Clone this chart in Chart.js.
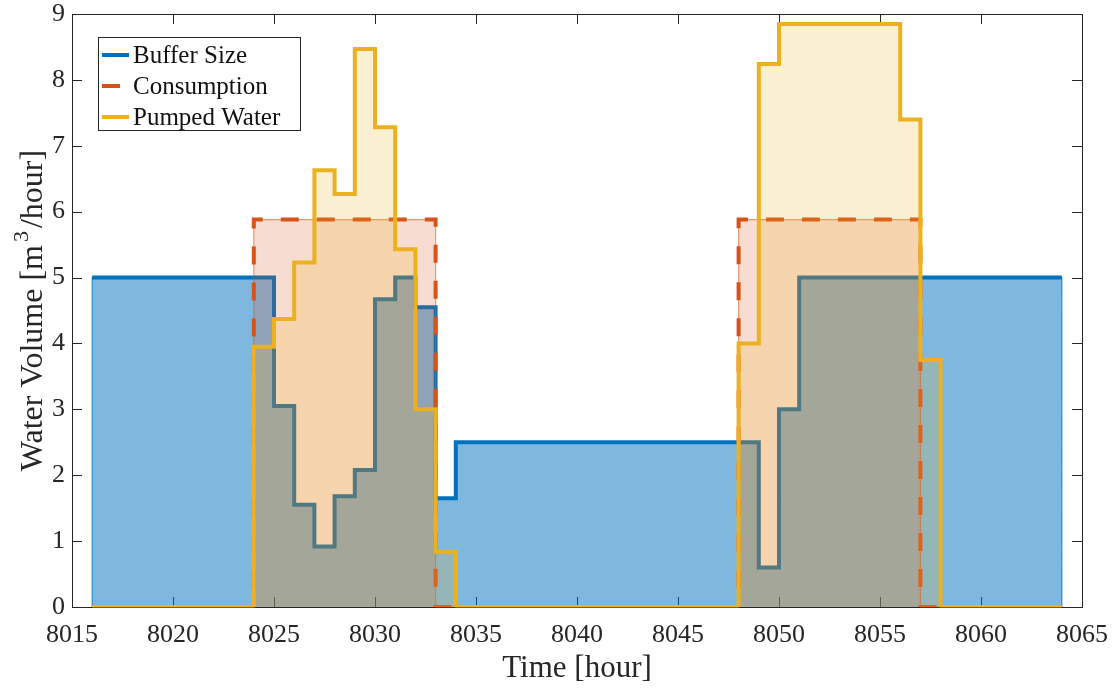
<!DOCTYPE html>
<html>
<head>
<meta charset="utf-8">
<script src="https://cdn.jsdelivr.net/npm/chart.js@4"></script>
<style>
  body { margin: 0; background: #fff; }
  #wrap { width: 1117px; height: 688px; }
</style>
</head>
<body>
<div id="wrap"><canvas id="myChart"></canvas></div>
<script>
const hours = [8016, 8017, 8018, 8019, 8020, 8021, 8022, 8023, 8024, 8025,
  8026, 8027, 8028, 8029, 8030, 8031, 8032, 8033, 8034, 8035,
  8036, 8037, 8038, 8039, 8040, 8041, 8042, 8043, 8044, 8045,
  8046, 8047, 8048, 8049, 8050, 8051, 8052, 8053, 8054, 8055,
  8056, 8057, 8058, 8059, 8060, 8061, 8062, 8063, 8064];

const bufferSize = [5, 5, 5, 5, 5, 5, 5, 5, 5, 3.05,
  1.55, 0.92, 1.68, 2.08, 4.67, 5, 4.55, 1.65, 2.5, 2.5,
  2.5, 2.5, 2.5, 2.5, 2.5, 2.5, 2.5, 2.5, 2.5, 2.5,
  2.5, 2.5, 2.5, 0.6, 3, 5, 5, 5, 5, 5,
  5, 5, 5, 5, 5, 5, 5, 5, 5];

const consumption = [0, 0, 0, 0, 0, 0, 0, 0, 5.88, 5.88,
  5.88, 5.88, 5.88, 5.88, 5.88, 5.88, 5.88, 0, 0, 0,
  0, 0, 0, 0, 0, 0, 0, 0, 0, 0,
  0, 0, 5.88, 5.88, 5.88, 5.88, 5.88, 5.88, 5.88, 5.88,
  5.88, 0, 0, 0, 0, 0, 0, 0, 0];

const pumpedWater = [0, 0, 0, 0, 0, 0, 0, 0, 3.95, 4.37,
  5.23, 6.63, 6.27, 8.47, 7.28, 5.43, 3.0, 0.84, 0, 0,
  0, 0, 0, 0, 0, 0, 0, 0, 0, 0,
  0, 0, 4.0, 8.24, 8.85, 8.85, 8.85, 8.85, 8.85, 8.85,
  7.4, 3.75, 0, 0, 0, 0, 0, 0, 0];

const xTicks = [8015, 8065, 5];
const yTicks = [0, 9, 1];

const seriesNames = ['Buffer Size', 'Consumption', 'Pumped Water'];
const edgeColors = ['rgba(0,114,189,0.8)', 'rgba(217,83,25,0.55)', 'rgba(237,177,32,0.6)'];
const serif = "'Liberation Serif', 'DejaVu Serif', serif";
const axisColor = '#262626';

const toPoints = vals => hours.map((h, i) => ({x: h, y: vals[i]}));

// inward ticks and box, drawn under the areas like matlab
const axesBox = {
  id: 'axesBox',
  beforeDatasetsDraw(chart) {
    const {ctx, chartArea: a, scales: {x, y}} = chart;
    ctx.save();
    ctx.strokeStyle = axisColor;
    ctx.lineWidth = 1;
    ctx.strokeRect(Math.round(a.left) + 0.5, Math.round(a.top) + 0.5,
      Math.round(a.right - a.left), Math.round(a.bottom - a.top));
    ctx.beginPath();
    x.ticks.forEach(t => {
      const px = Math.round(x.getPixelForValue(t.value)) + 0.5;
      ctx.moveTo(px, a.bottom); ctx.lineTo(px, a.bottom - 10);
      ctx.moveTo(px, a.top); ctx.lineTo(px, a.top + 10);
    });
    y.ticks.forEach(t => {
      const py = Math.round(y.getPixelForValue(t.value)) + 0.5;
      ctx.moveTo(a.left, py); ctx.lineTo(a.left + 10, py);
      ctx.moveTo(a.right, py); ctx.lineTo(a.right - 10, py);
    });
    ctx.stroke();
    ctx.restore();
  },
  // thin patch edge round each area
  afterDatasetDraw(chart, args) {
    const {ctx} = chart;
    const pts = args.meta.data;
    const base = chart.scales.y.getPixelForValue(0);
    ctx.save();
    ctx.strokeStyle = edgeColors[args.index];
    ctx.lineWidth = 1.2;
    ctx.beginPath();
    ctx.moveTo(pts[0].x, base);
    ctx.lineTo(pts[0].x, pts[0].y);
    for (let i = 1; i < pts.length; i++) {
      ctx.lineTo(pts[i].x, pts[i - 1].y);
      ctx.lineTo(pts[i].x, pts[i].y);
    }
    ctx.lineTo(pts[pts.length - 1].x, base);
    ctx.stroke();
    ctx.restore();
  },
  afterDraw(chart) {
    const {ctx, chartArea: a} = chart;
    ctx.save();
    ctx.fillStyle = axisColor;

    // x title
    ctx.font = '31px ' + serif;
    ctx.textAlign = 'center';
    ctx.textBaseline = 'alphabetic';
    ctx.fillText('Time [hour]', (a.left + a.right) / 2, 677);

    // y title with superscript
    ctx.translate(42, (a.top + a.bottom) / 2);
    ctx.rotate(-Math.PI / 2);
    const p1 = 'Water Volume [m', sup = '3', p2 = '/hour]';
    ctx.font = '32px ' + serif;
    const w1 = ctx.measureText(p1).width, w3 = ctx.measureText(p2).width;
    ctx.font = '22px ' + serif;
    const w2 = ctx.measureText(sup).width + 6;
    let sx = -(w1 + w2 + w3) / 2;
    ctx.textAlign = 'left';
    ctx.font = '32px ' + serif;
    ctx.fillText(p1, sx, 0);
    ctx.font = '22px ' + serif;
    ctx.fillText(sup, sx + w1 + 3, -14);
    ctx.font = '32px ' + serif;
    ctx.fillText(p2, sx + w1 + w2, 0);
    ctx.restore();

    // legend box
    ctx.save();
    ctx.fillStyle = '#fff';
    ctx.fillRect(98, 37, 202, 93);
    ctx.strokeStyle = axisColor;
    ctx.lineWidth = 1;
    ctx.strokeRect(98.5, 37.5, 202, 93);
    const rows = [55, 86, 117];
    chart.data.datasets.forEach((ds, i) => {
      ctx.strokeStyle = ds.borderColor;
      ctx.lineWidth = 4;
      ctx.beginPath();
      ctx.moveTo(102, rows[i]);
      ctx.lineTo(ds.borderDash ? 120 : 129, rows[i]);
      ctx.stroke();
      ctx.fillStyle = '#111';
      ctx.font = '25px ' + serif;
      ctx.textAlign = 'left';
      ctx.textBaseline = 'middle';
      ctx.fillText(seriesNames[i], 133, rows[i] + 1);
    });
    ctx.restore();
  }
};

const ctx = document.getElementById('myChart');

new Chart(ctx, {
  type: 'line',
  data: {
    datasets: [{
      label: seriesNames[0],
      data: toPoints(bufferSize),
      order: 3,
      borderColor: '#0072BD',
      backgroundColor: 'rgba(0,114,189,0.5)',
      borderWidth: 4,
      fill: 'origin'
    }, {
      label: seriesNames[1],
      data: toPoints(consumption),
      order: 2,
      borderColor: '#D95319',
      backgroundColor: 'rgba(217,83,25,0.2)',
      borderWidth: 4,
      borderDash: [18, 18],
      fill: 'origin'
    }, {
      label: seriesNames[2],
      data: toPoints(pumpedWater),
      order: 1,
      borderColor: '#EDB120',
      backgroundColor: 'rgba(237,177,32,0.2)',
      borderWidth: 4,
      fill: 'origin'
    }]
  },
  options: {
    responsive: true,
    maintainAspectRatio: false,
    animation: false,
    elements: {
      line: { stepped: 'before', tension: 0, borderJoinStyle: 'miter', borderCapStyle: 'butt' },
      point: { radius: 0, hoverRadius: 0 }
    },
    layout: { padding: { top: 14, right: 35, left: 0, bottom: 0 } },
    scales: {
      x: {
        type: 'linear',
        min: xTicks[0],
        max: xTicks[1],
        afterFit: s => {
          s.height = 81;
          s.paddingLeft = 0; s.paddingRight = 0;
        },
        grid: { display: false, drawTicks: false },
        border: { display: false },
        ticks: {
          stepSize: xTicks[2],
          padding: 13,
          color: axisColor,
          maxRotation: 0,
          font: { family: serif, size: 26 },
          callback: v => String(v)
        }
      },
      y: {
        min: yTicks[0],
        max: yTicks[1],
        afterFit: s => {
          s.width = 72;
          s.paddingTop = 0; s.paddingBottom = 0;
        },
        grid: { display: false, drawTicks: false },
        border: { display: false },
        ticks: {
          stepSize: yTicks[2],
          padding: 7,
          color: axisColor,
          font: { family: serif, size: 26 },
          callback: v => String(v)
        }
      }
    },
    plugins: {
      legend: { display: false },
      tooltip: { enabled: false }
    }
  },
  plugins: [axesBox]
});
</script>
</body>
</html>
